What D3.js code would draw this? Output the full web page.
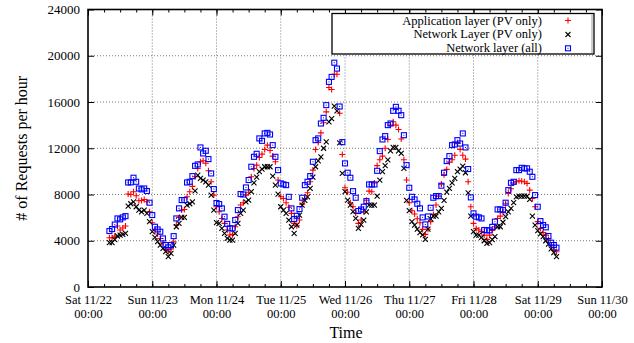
<!DOCTYPE html>
<html>
<head>
<meta charset="utf-8">
<script src="https://cdn.jsdelivr.net/npm/d3@7"></script>
<style>
  body { margin: 0; background: #fff; }
  svg { display: block; }
  svg text { font-family: "Liberation Serif", "Times New Roman", serif; }
</style>
</head>
<body>
<script>
// hourly samples, first one at Sat 11/22 08:00
var startHour = 8;

var dayLabels = ["Sat 11/22", "Sun 11/23", "Mon 11/24", "Tue 11/25", "Wed 11/26",
                 "Thu 11/27", "Fri 11/28", "Sat 11/29", "Sun 11/30"];
var hourLabel = "00:00";
var yTicks = [0, 4000, 8000, 12000, 16000, 20000, 24000];
var seriesNames = ["Application layer (PV only)", "Network Layer (PV only)", "Network layer (all)"];

var appPV = [
  4260, 4260, 4400, 5270, 4930, 5100, 5270, 8040, 8000, 8240, 7890, 7460, 7480, 7570, 7370, 6510,
  5560, 4930, 4580, 4200, 3830, 3300, 3050, 3300, 3920, 5360, 6020, 6650, 6700, 7800, 8240, 8700,
  9530, 10250, 10830, 10920, 10700, 10050, 9100, 7950,
  6940, 6510, 5930, 5500, 4930, 4500, 4550, 5210, 6080, 7090, 7290, 7950, 8200, 9530, 10250, 10540,
  11200, 11490, 11890, 12270, 11800, 11320, 10830, 9250,
  7810, 7660, 7290, 6900, 6370, 5500, 5300, 5800, 7170, 7600, 8150, 9100, 10110, 11890, 12500, 13330,
  14200, 15150, 17250, 17080, 18400, 18400, 15030, 11460,
  8580, 8200, 7290, 6940, 6400, 5500, 5790, 6500, 7500, 8290, 8240, 9000, 10500, 11000, 11320, 12000,
  12760, 14000, 14290, 14000, 13620, 12800, 11000, 9250,
  7290, 6600, 6310, 5900, 5560, 4980, 4550, 5000, 5650, 6280, 7090, 7860, 8900, 9700, 10170, 10800,
  11000, 11400, 12410, 11900, 11400, 11060, 9100, 6940,
  5500, 5070, 4930, 4800, 4490, 4120, 4490, 4900, 5210, 5930, 6130, 6510, 7200, 8090, 8500, 9000,
  9100, 9190, 9150, 9100, 8960, 8380, 7660, 6940,
  5650, 5070, 4700, 4490, 4060, 3630, 3200, 3050
];

var netPV = [
  3830, 3830, 4100, 4410, 4490, 4560, 4640, 7000, 7200, 7370, 6940, 6650, 6500, 6650, 6370, 5650,
  4780, 4300, 3920, 3630, 3340, 3050, 2620, 2910, 3630, 5210, 5500, 6020, 6020, 7090, 7200, 7370,
  8320, 9680, 9390, 9250, 9100, 8810, 7950, 6650,
  5560, 5500, 5070, 4640, 4200, 4060, 4060, 4640, 5500, 6370, 6650, 7370, 7520, 8240, 9010, 9500,
  9970, 10200, 10400, 10400, 10400, 9590, 8810, 8040,
  6940, 6650, 6370, 5790, 5210, 4640, 5360, 6220, 7090, 7500, 7800, 8530, 9500, 10400, 10900, 11260,
  12000, 12560, 14290, 14570, 15640, 15240, 12470, 9820,
  8240, 7520, 7090, 6510, 5930, 5070, 5400, 5790, 6500, 7090, 7090, 7090, 7860, 9250, 9970, 10500,
  11000, 11780, 12070, 12070, 11780, 11550, 10250, 7500,
  6600, 5650, 5360, 5000, 4700, 4500, 4120, 5000, 5900, 6130, 6130, 6500, 6800, 7500, 8200, 8530,
  9000, 9390, 9970, 10200, 10450, 9880, 8150, 6130,
  4780, 4490, 4490, 4300, 4000, 3770, 3830, 4100, 4350, 5210, 5210, 5600, 6080, 6500, 6800, 7300,
  7800, 7860, 7860, 7860, 7860, 7570, 6130, 5360,
  4870, 4600, 4350, 4000, 3700, 3300, 2970, 2620
];

var netAll = [
  4840, 5010, 5400, 5930, 5850, 6020, 6130, 9040, 9050, 9450, 9100, 8520, 8440, 8520, 8300, 7290,
  6220, 5210, 4980, 4780, 4200, 3630, 3430, 3630, 4400, 5930, 6800, 7520, 7520, 9040, 9100, 9590,
  10480, 10600, 12070, 11550, 11780, 11060, 9820, 8470,
  7260, 7170, 6800, 6080, 5460, 5070, 5070, 5790, 6650, 8040, 8000, 8610, 9250, 10400, 11260, 11520,
  12850, 12640, 13280, 13330, 13190, 12270, 11260, 10110,
  8960, 8880, 8810, 7800, 6800, 5880, 6160, 6740, 7720, 8810, 9100, 9590, 10830, 12700, 12850, 14140,
  14630, 15730, 17740, 18170, 19400, 18890, 15610, 12530,
  10690, 9880, 9450, 8290, 7720, 6570, 6700, 6940, 7430, 8870, 8870, 8870, 10050, 11750, 12760, 13050,
  14000, 14140, 15240, 15580, 15240, 14860, 13130, 10540,
  8580, 7800, 7570, 7200, 6800, 6020, 5410, 6100, 6850, 7720, 7860, 7860, 8760, 9880, 10890, 11320,
  12270, 12330, 12700, 12410, 13280, 12070, 10200, 7750,
  6370, 6080, 6020, 5930, 4930, 4900, 4900, 5200, 5650, 6710, 6710, 6650, 7290, 8380, 9010, 9100,
  10110, 10110, 10310, 10260, 10260, 9970, 9530, 7950,
  6940, 5700, 5360, 5160, 4410, 3830, 3630, 3400
];

var Chart = (function() {

  var width = 634;
  var height = 343;
  var left = 88, top = 9.5;
  var plotW = 514, plotH = 277.5;
  var serif = "'Liberation Serif', 'Times New Roman', serif";

  var t0 = Date.UTC(2008, 10, 22);

  var toPoints = function(values) {
    return values.map(function(v, i) {
      return { t: new Date(t0 + (startHour + i) * 3600000), v: v };
    });
  };

  var init = function() {
    var svg = d3.select("body")
                .append("svg")
                .attr("width", width)
                .attr("height", height);

    var x = d3.scaleUtc()
              .domain([new Date(t0), new Date(t0 + 8 * 86400000)])
              .range([0, plotW]);
    var y = d3.scaleLinear()
              .domain([0, 24000])
              .range([plotH, 0]);

    var dayTicks = dayLabels.map(function(d, i) { return new Date(t0 + i * 86400000); });
    var minorTicks = d3.range(0, 8 * 4 + 1).map(function(i) { return new Date(t0 + i * 6 * 3600000); });

    var g = svg.append("g").attr("transform", "translate(" + left + "," + top + ")");

    // grid
    var grid = g.append("g").attr("class", "grid");
    grid.selectAll("line.gx")
        .data(dayTicks.slice(1, -1))
        .enter()
        .append("line")
        .attr("x1", function(d) { return x(d); })
        .attr("x2", function(d) { return x(d); })
        .attr("y1", 0)
        .attr("y2", plotH);
    grid.selectAll("line.gy")
        .data(yTicks.slice(1, -1))
        .enter()
        .append("line")
        .attr("x1", 0)
        .attr("x2", plotW)
        .attr("y1", function(d) { return y(d); })
        .attr("y2", function(d) { return y(d); });
    grid.selectAll("line")
        .attr("stroke", "#777")
        .attr("stroke-width", 1)
        .attr("stroke-dasharray", "1,2");

    // axes, ticks pointing inward
    var xAxis = g.append("g")
        .attr("transform", "translate(0," + plotH + ")")
        .call(d3.axisBottom(x).tickValues(dayTicks).tickSize(-6).tickPadding(8.5)
              .tickFormat(function(d, i) { return dayLabels[i]; }))
        .attr("font-family", serif)
        .attr("font-size", 12.5);
    xAxis.selectAll(".tick text").attr("fill", "#000");
    // second label line as its own text
    xAxis.selectAll(".tick")
        .append("text")
        .attr("fill", "#000")
        .attr("y", 22.5)
        .attr("dy", "0.71em")
        .text(hourLabel);
    g.append("g")
        .attr("transform", "translate(0," + plotH + ")")
        .call(d3.axisBottom(x).tickValues(minorTicks).tickSize(-3).tickFormat(""));
    g.append("g")
        .call(d3.axisTop(x).tickValues(dayTicks).tickSize(-6).tickFormat(""));
    g.append("g")
        .call(d3.axisTop(x).tickValues(minorTicks).tickSize(-3).tickFormat(""));

    g.append("g")
        .call(d3.axisLeft(y).tickValues(yTicks).tickSize(-6).tickPadding(8).tickFormat(d3.format("d")))
        .attr("font-family", serif)
        .attr("font-size", 13)
        .selectAll(".tick text")
        .attr("fill", "#000");
    g.append("g")
        .attr("transform", "translate(" + plotW + ",0)")
        .call(d3.axisRight(y).tickValues(yTicks).tickSize(-6).tickFormat(""));

    g.selectAll(".domain").remove();
    g.selectAll(".tick line").attr("stroke", "#000").attr("stroke-width", 1);

    // data: red plus, black cross, blue squares on top
    g.append("g")
        .selectAll("path")
        .data(toPoints(appPV))
        .enter()
        .append("path")
        .attr("transform", function(d) { return "translate(" + x(d.t) + "," + y(d.v) + ")"; })
        .attr("d", "M-3,0H3M0,-3V3")
        .attr("stroke", "#ff0000")
        .attr("stroke-width", 1.1)
        .attr("fill", "none");

    g.append("g")
        .selectAll("path")
        .data(toPoints(netPV))
        .enter()
        .append("path")
        .attr("transform", function(d) { return "translate(" + x(d.t) + "," + y(d.v) + ")"; })
        .attr("d", "M-2.5,-2.5L2.5,2.5M-2.5,2.5L2.5,-2.5")
        .attr("stroke", "#000")
        .attr("stroke-width", 1.1)
        .attr("fill", "none");

    var sq = g.append("g")
        .selectAll("g")
        .data(toPoints(netAll))
        .enter()
        .append("g")
        .attr("transform", function(d) { return "translate(" + x(d.t) + "," + y(d.v) + ")"; });
    sq.append("rect")
        .attr("x", -2.5).attr("y", -2.5)
        .attr("width", 5).attr("height", 5)
        .attr("fill", "none")
        .attr("stroke", "#0000ff")
        .attr("stroke-width", 1.1);
    sq.append("rect")
        .attr("x", -0.5).attr("y", -0.5)
        .attr("width", 1).attr("height", 1)
        .attr("fill", "#0000ff");

    // frame
    g.append("rect")
        .attr("width", plotW)
        .attr("height", plotH)
        .attr("fill", "none")
        .attr("stroke", "#000")
        .attr("stroke-width", 1.6);

    // legend
    var rowH = 13.9;
    var lg = svg.append("g");
    lg.append("rect")
        .attr("x", 332).attr("y", 13.5)
        .attr("width", 262).attr("height", 40.5)
        .attr("fill", "#fff")
        .attr("stroke", "#000")
        .attr("stroke-width", 1.3);
    lg.append("line")
        .attr("x1", 592).attr("x2", 592)
        .attr("y1", 14.5).attr("y2", 53)
        .attr("stroke", "#999")
        .attr("stroke-width", 1);
    lg.selectAll("text")
        .data(seriesNames)
        .enter()
        .append("text")
        .attr("x", 542)
        .attr("y", function(d, i) { return 24.5 + i * rowH; })
        .attr("text-anchor", "end")
        .attr("font-size", "12.5px")
        .text(function(d) { return d; });
    lg.append("path")
        .attr("d", "M565,20.5H571M568,17.5V23.5")
        .attr("stroke", "#ff0000").attr("stroke-width", 1.1);
    lg.append("path")
        .attr("d", "M565.5,32L570.5,37M565.5,37L570.5,32")
        .attr("stroke", "#000").attr("stroke-width", 1.1);
    lg.append("rect")
        .attr("x", 565.5).attr("y", 45.8).attr("width", 5).attr("height", 5)
        .attr("fill", "none").attr("stroke", "#0000ff").attr("stroke-width", 1.1);
    lg.append("rect")
        .attr("x", 567.5).attr("y", 47.8).attr("width", 1).attr("height", 1)
        .attr("fill", "#0000ff");

    // axis titles
    svg.append("text")
        .attr("x", 346)
        .attr("y", 338)
        .attr("text-anchor", "middle")
        .attr("font-size", "16px")
        .text("Time");
    svg.append("text")
        .attr("transform", "translate(27," + (top + plotH / 2) + ") rotate(-90)")
        .attr("text-anchor", "middle")
        .attr("font-size", "16px")
        .text("# of Requests per hour");
  };

  return { 'init': init };
})();

Chart.init();
</script>
</body>
</html>
